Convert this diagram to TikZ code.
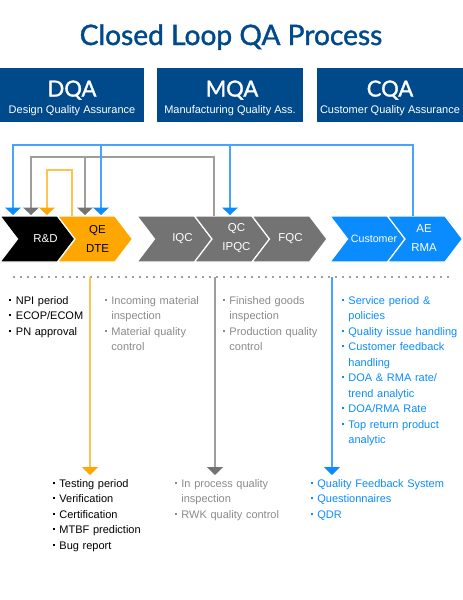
\documentclass[tikz,border=0pt]{standalone}
\usepackage{fontspec}
\setmainfont{Liberation Sans}
\newfontfamily\headfont[FakeBold=1.4]{Lato}
\usetikzlibrary{arrows.meta}

\definecolor{qaNavy}{RGB}{0,74,140}
\definecolor{qaOrange}{RGB}{255,166,0}
\definecolor{qaGray}{RGB}{115,115,115}
\definecolor{qaBlue}{RGB}{10,140,255}
\definecolor{qaOrangeLine}{RGB}{255,196,80}
\definecolor{qaGrayLine}{RGB}{158,158,158}
\definecolor{qaBlueLine}{RGB}{70,163,255}
\definecolor{qaDots}{RGB}{160,160,160}
\definecolor{qaTextGray}{RGB}{138,138,138}

\newcommand{\blt}{\makebox[5pt][l]{\rule[2.6pt]{1.5pt}{1.5pt}}}
\newcommand{\ind}{\hspace*{5pt}}

\begin{document}
\begin{tikzpicture}[x=0.75pt,y=0.75pt,yscale=-1,xscale=1,
  title/.style={inner sep=0pt, text=qaNavy, font=\headfont\fontsize{21.1}{24}\selectfont},
  hdrbig/.style={inner sep=0pt, text=white, font=\headfont\fontsize{16.5}{20}\selectfont},
  hdrsmall/.style={inner sep=0pt, text=white, font=\fontsize{8.25}{10}\selectfont},
  chev/.style={draw=white, line width=0.9, line join=miter},
  chevlabel/.style={inner sep=0pt, align=center, font=\fontsize{8.6}{14.25}\selectfont},
  loopblue/.style={draw=qaBlueLine, line width=1.5, -{Triangle[width=11.5pt,length=5.5pt,color=qaBlue]}},
  loopgray/.style={draw=qaGrayLine, line width=1.5, -{Triangle[width=11.5pt,length=5.5pt,color=qaGray]}},
  looporange/.style={draw=qaOrangeLine, line width=1.5, -{Triangle[width=11.5pt,length=5.5pt,color=qaOrange]}},
  downline/.style={line width=2, -{Triangle[width=12pt,length=6pt,color=#1]}},
  list/.style={inner sep=0pt, align=left, text width=130pt, font=\fontsize{8.25}{11.625}\selectfont}
]
\path[use as bounding box] (0,0) rectangle (463,600);

% Text Node
\draw (231,45) node [anchor=base][title] (title) {Closed Loop QA Process};

%Shape: Header boxes
\draw [fill=qaNavy, draw=none] (0,68) rectangle (144,122);
\draw [fill=qaNavy, draw=none] (157,68) rectangle (303,122);
\draw [fill=qaNavy, draw=none] (317,68) rectangle (463,122);

% Text Node
\draw (72,96.5) node [anchor=base][hdrbig] (dqa) {DQA};
\draw (72,113) node [anchor=base][hdrsmall] (dqaSub) {Design Quality Assurance};
\draw (232,96.5) node [anchor=base][hdrbig] (mqa) {MQA};
\draw (230,113) node [anchor=base][hdrsmall] (mqaSub) {Manufacturing Quality Ass.};
\draw (390,96.5) node [anchor=base][hdrbig] (cqa) {CQA};
\draw (390,113) node [anchor=base][hdrsmall] (cqaSub) {Customer Quality Assurance};

%Shape: Chevrons
\draw [chev, fill=black] (0,216) -- (57.5,216) -- (75,239) -- (57.5,262) -- (0,262) -- (17.5,239) -- cycle ;
\draw [chev, fill=qaOrange] (57.5,216) -- (115,216) -- (132.5,239) -- (115,262) -- (57.5,262) -- (75,239) -- cycle ;
\draw [chev, fill=qaGray] (137,216) -- (194.5,216) -- (212,239) -- (194.5,262) -- (137,262) -- (154.5,239) -- cycle ;
\draw [chev, fill=qaGray] (194.5,216) -- (252,216) -- (269.5,239) -- (252,262) -- (194.5,262) -- (212,239) -- cycle ;
\draw [chev, fill=qaGray] (252,216) -- (309.5,216) -- (327,239) -- (309.5,262) -- (252,262) -- (269.5,239) -- cycle ;
\draw [chev, fill=qaBlue] (330,216) -- (387.5,216) -- (405,239) -- (387.5,262) -- (330,262) -- (347.5,239) -- cycle ;
\draw [chev, fill=qaBlue] (387.5,216) -- (445,216) -- (462.5,239) -- (445,262) -- (387.5,262) -- (405,239) -- cycle ;

% Text Node
\draw (45.5,239) node [chevlabel, text=white] (rd) {R\&D};
\draw (97.5,238.5) node [chevlabel, text=black] (qe) {QE\\DTE};
\draw (182.5,239) node [chevlabel, text=white] (iqc) {IQC};
\draw (236.5,238.5) node [chevlabel, text=white] (qc) {QC\\IPQC};
\draw (290.5,239) node [chevlabel, text=white] (fqc) {FQC};
\draw (374,239) node [chevlabel, text=white, font=\fontsize{8}{10}\selectfont] (cust) {Customer};
\draw (424,238.5) node [chevlabel, text=white] (ae) {AE\\RMA};

% Loop ends
\coordinate (blueOut) at (413,216);
\coordinate (blueBar) at (0,145);
\coordinate (blueRD) at (13,215);
\coordinate (blueQE) at (101,215);
\coordinate (blueQC) at (230,215);
\coordinate (grayOut) at (214,216);
\coordinate (grayBar) at (0,157);
\coordinate (grayRD) at (31,215);
\coordinate (grayQE) at (85,215);
\coordinate (orangeOut) at (72,216);
\coordinate (orangeBar) at (0,170);
\coordinate (orangeRD) at (47,215);

%Straight Lines: feedback loops
\draw [loopgray] (grayOut) -- (grayOut |- grayBar) -- (grayRD |- grayBar) -- (grayRD) ;
\draw [loopgray] (grayQE |- grayBar) -- (grayQE) ;
\draw [loopblue] (blueOut) -- (blueOut |- blueBar) -- (blueRD |- blueBar) -- (blueRD) ;
\draw [loopblue] (blueQE |- blueBar) -- (blueQE) ;
\draw [loopblue] (blueQC |- blueBar) -- (blueQC) ;
\draw [looporange] (orangeOut) -- (orangeOut |- orangeBar) -- (orangeRD |- orangeBar) -- (orangeRD) ;

%Straight Lines: dotted separator
\coordinate (dotL) at (13,277);
\coordinate (dotR) at (452,277);
\draw [draw=qaDots, line width=1.5, dash pattern=on 1.5pt off 3.75pt] (dotL) -- (dotR) ;

% Text Node
\draw (9,304) node [anchor=base west][list, text=black] (rdList) {\blt NPI period\\\blt ECOP/ECOM\\\blt PN approval};
\draw (104.5,304) node [anchor=base west][list, text=qaTextGray] (iqcList) {\blt Incoming material\\\ind inspection\\\blt Material quality\\\ind control};
\draw (222.5,304) node [anchor=base west][list, text=qaTextGray] (fqcList) {\blt Finished goods\\\ind inspection\\\blt Production quality\\\ind control};
\draw (341.5,304) node [anchor=base west][list, text=qaBlue] (custList) {\blt Service period \&\\\ind policies\\\blt Quality issue handling\\\blt Customer feedback\\\ind handling\\\blt DOA \& RMA rate/\\\ind trend analytic\\\blt DOA/RMA Rate\\\blt Top return product\\\ind analytic};

% Down lines
\coordinate (qeDown) at (90,277);
\coordinate (qeEnd) at (90,475);
\coordinate (qcDown) at (215,277);
\coordinate (qcEnd) at (215,475);
\coordinate (custDown) at (332,277);
\coordinate (custEnd) at (332,475);
\draw [downline=qaOrange, draw=qaOrangeLine] (qeDown) -- (qeEnd) ;
\draw [downline=qaGray, draw=qaGrayLine] (qcDown) -- (qcEnd) ;
\draw [downline=qaBlue, draw=qaBlueLine] (custDown) -- (custEnd) ;

% Text Node
\draw (52.5,487) node [anchor=base west][list, text=black] (qeList) {\blt Testing period\\\blt Verification\\\blt Certification\\\blt MTBF prediction\\\blt Bug report};
\draw (174.5,487) node [anchor=base west][list, text=qaTextGray] (qcList) {\blt In process quality\\\ind inspection\\\blt RWK quality control};
\draw (310.5,487) node [anchor=base west][list, text=qaBlue] (fbList) {\blt Quality Feedback System\\\blt Questionnaires\\\blt QDR};

\end{tikzpicture}
\end{document}
